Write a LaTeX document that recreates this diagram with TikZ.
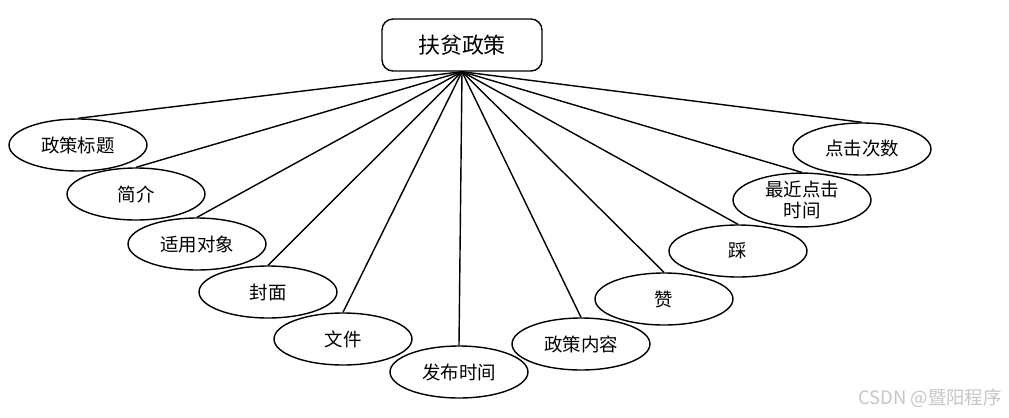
\documentclass[tikz,border=0pt]{standalone}
\usepackage{fontspec}
\newfontfamily\cjk{Noto Sans CJK SC}
\usetikzlibrary{shapes.geometric}

\begin{document}
\begin{tikzpicture}[
          x=0.02cm, y=-0.02cm,
          font=\cjk\fontsize{10.5}{12}\selectfont,
          entity/.style={draw, line width=0.8pt, rounded corners=0.22cm, minimum width=3.2cm, minimum height=1.04cm, inner sep=0pt, font=\cjk\fontsize{12.5}{14}\selectfont},
          attr/.style={draw, line width=0.8pt, ellipse, minimum width=2.76cm, minimum height=1.04cm, inner sep=0pt, align=center},
          link/.style={line width=0.8pt}
        ]
        \useasboundingbox (0,0) rectangle (1009,417);

        % -------- Entity --------
        \node[entity] (root) at (462,45) {扶贫政策};

        % -------- Attributes (left side) --------
        \node[attr] (title)   at (78,145)  {政策标题};
        \node[attr] (intro)   at (136,194) {简介};
        \node[attr] (target)  at (197,244) {适用对象};
        \node[attr] (cover)   at (268,292) {封面};
        \node[attr] (file)    at (343,339) {文件};
        \node[attr] (pubtime) at (459,372) {发布时间};

        % -------- Attributes (right side) --------
        \node[attr] (content) at (581,344) {政策内容};
        \node[attr] (like)    at (664,299) {赞};
        \node[attr] (dislike) at (738,251) {踩};
        \node[attr] (lastclk) at (802,200) {最近点击\\时间};
        \node[attr] (clicks)  at (862,149) {点击次数};

        % -------- Links --------
        \foreach \a in {title, intro, target, cover, file, pubtime, content, like, dislike, lastclk, clicks}
          \draw[link] (root.south) -- (\a.north);

        % -------- Watermark --------
        \node[text=gray!45, font=\cjk\fontsize{10.5}{12}\selectfont] (mark) at (930,398) {CSDN @暨阳程序};

      \end{tikzpicture}
\end{document}
